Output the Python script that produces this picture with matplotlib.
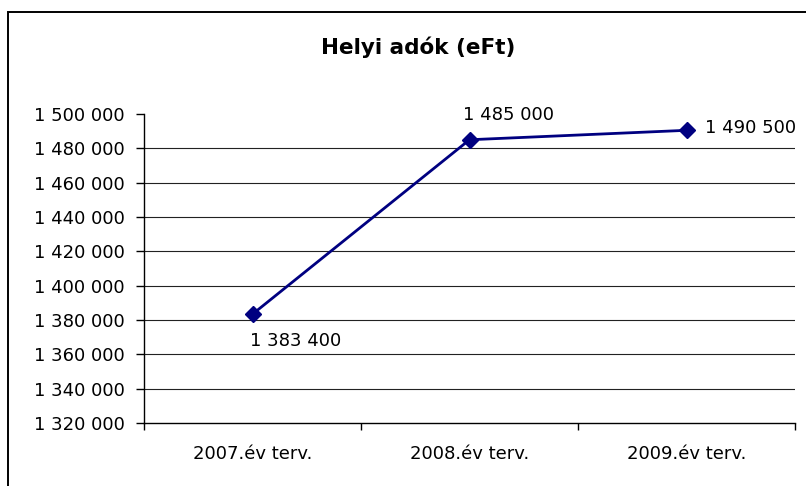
import matplotlib
matplotlib.use("Agg")
import matplotlib.pyplot as plt
from matplotlib.patches import Rectangle

# -------------------------
# DATA
# -------------------------
categories = ["2007.év terv.", "2008.év terv.", "2009.év terv."]
values = [1383400, 1485000, 1490500]
y_ticks = list(range(1320000, 1500001, 20000))
title = "Helyi adók (eFt)"


def fmt(v):
    return f"{v:,.0f}".replace(",", " ")


# -------------------------
# FIGURE
# -------------------------
W, H = 806, 486
fig = plt.figure(figsize=(W / 100, H / 100), dpi=100)
fig.patch.set_facecolor("white")

# outer chart border (runs off right/bottom like the reference)
fig.add_artist(Rectangle((8 / W, -0.05), 1.2, 1 - 12 / H + 0.05,
                         transform=fig.transFigure, fill=False,
                         edgecolor="black", linewidth=1.4))

ax = fig.add_axes([144 / W, 1 - 423 / H, (795 - 144) / W, (423 - 114) / H])

x = list(range(len(categories)))
ax.plot(x, values, color="#000080", linewidth=2, marker="D",
        markersize=8.5, markerfacecolor="#000080", markeredgecolor="#000080",
        zorder=3)

# -------------------------
# AXES
# -------------------------
ax.set_xlim(-0.5, len(categories) - 0.5)
ax.set_ylim(y_ticks[0], y_ticks[-1])
ax.set_yticks(y_ticks)
ax.set_yticklabels([fmt(v) for v in y_ticks])

ax.set_xticks([i - 0.5 for i in range(len(categories) + 1)])
ax.set_xticklabels([])
ax.set_xticks(x, minor=True)
ax.set_xticklabels(categories, minor=True)

ax.tick_params(axis="y", direction="out", length=6, width=1, pad=8,
               labelsize=13)
ax.tick_params(axis="x", which="major", direction="out", length=5, width=1)
ax.tick_params(axis="x", which="minor", length=0, pad=16, labelsize=13)

for s in ["top", "right"]:
    ax.spines[s].set_visible(False)
for s in ["left", "bottom"]:
    ax.spines[s].set_linewidth(1)
    ax.spines[s].set_color("black")

ax.grid(axis="y", color="#222222", linewidth=0.8)
ax.set_axisbelow(True)
gl = ax.get_ygridlines()
gl[0].set_visible(False)
gl[-1].set_visible(False)

# -------------------------
# DATA LABELS
# -------------------------
offsets = [(-1.5, -19), (-5, 18), (13, 1.5)]
for xi, v, off in zip(x, values, offsets):
    ax.annotate(fmt(v), (xi, v), xytext=off, textcoords="offset points",
                ha="left", va="center", fontsize=13)

fig.text(418 / W, 1 - 47 / H, title, ha="center", va="center",
         fontsize=15.5, fontweight="bold")

fig.savefig("out.png", dpi=100)
